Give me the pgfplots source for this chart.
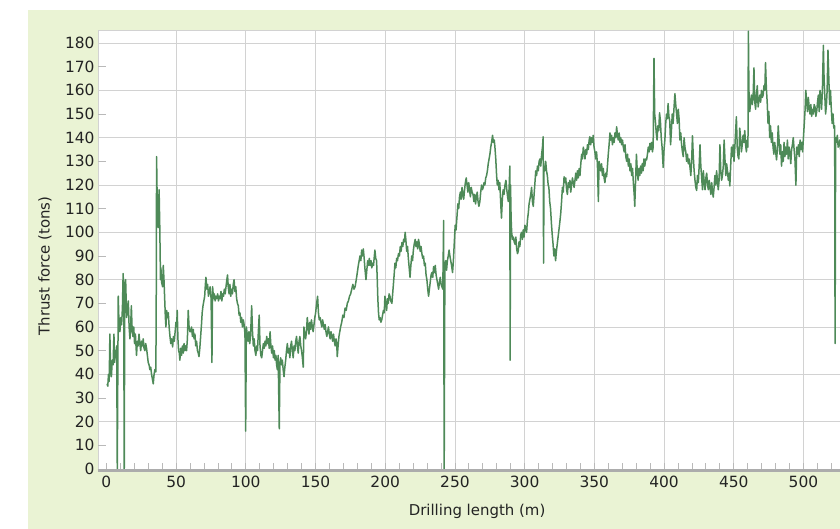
\documentclass[border=0pt]{standalone}
\usepackage{pgfplots}
\pgfplotsset{compat=1.18}
\usepackage{fontspec}
\setmainfont{DejaVu Sans}
\definecolor{bggreen}{RGB}{234,243,212}
\definecolor{linegreen}{RGB}{78,138,88}
\definecolor{gridgray}{RGB}{210,210,210}
\definecolor{txt}{RGB}{35,35,35}
\begin{document}
\begin{tikzpicture}[x=1bp,y=1bp]
\useasboundingbox (0,0) rectangle (840,529);
\clip (0,0) rectangle (840,529);
\fill[white] (0,0) rectangle (840,529);
\fill[bggreen] (28,0) rectangle (840,519);
\begin{axis}[
  at={(106.4bp,60bp)}, anchor=origin,
  scale only axis, width=750bp, height=439bp,
  xmin=-6, xmax=532, ymin=0, ymax=185.5,
  axis background/.style={fill=white},
  axis line style={gridgray, line width=0.8bp},
  xtick={50,100,...,500},
  extra x ticks={0},
  extra x tick style={grid=none},
  minor xtick={0,10,...,530},
  ytick={0,20,...,180},
  extra y ticks={10,30,...,170},
  extra y tick style={grid=none, major tick length=8bp},
  xmajorgrids, ymajorgrids,
  major grid style={gridgray, line width=0.8bp},
  major tick length=0bp,
  minor tick length=6bp,
  tick style={gray!55, line width=0.8bp},
  xtick pos=bottom, ytick pos=left,
  tick align=inside,
  /pgf/number format/assume math mode=true,
  tick label style={font=\fontsize{15.5}{18}\selectfont, text=txt},
  xticklabel style={yshift=-4bp},
  xlabel={Drilling length (m)},
  ylabel={Thrust force (tons)},
  label style={font=\fontsize{15}{18}\selectfont, text=txt},
  xlabel style={at={(axis description cs:0,0)}, anchor=center, xshift=379bp, yshift=-42bp},
  ylabel style={at={(axis description cs:0,0.4624)}, anchor=center, yshift=53bp},
]
\addplot[linegreen, line width=1.5bp, line join=round, mark=none] coordinates {
(0.5,36)(1,35)(1.5,40)(2,37)(2.5,57)(3,42)(3.6,39)(4.2,46)(4.8,44)(5.4,57)(5.9,45)(6.4,50)(6.9,47)(7.4,52)(7.8,0)(8.5,73)(9.1,60)(9.7,58)(10.3,64)(10.9,61)(11.5,68)(12,82.6)(12.4,75)(12.8,0)(13.2,78)(13.8,80)(14.5,64)(15.1,68)(15.7,71)(16.3,60)(16.9,55)(17.5,62)(17.9,69)(18.5,58)(19,56)(19.6,60)(20.2,53)(20.8,57)(21.6,48)(22.2,54)(22.8,52)(23.4,57)(24,53)(24.6,50)(25.2,54)(25.8,52)(26.4,55)(27,51)(27.6,50)(28.2,53)(28.8,51)(29.4,48)(30,45)(30.6,44)(31.2,42)(31.8,43)(32.4,40)(33,38)(33.6,36)(34.2,40)(34.8,42)(35.4,41)(35.7,60)(36,132)(36.5,110)(37.2,102)(37.8,118)(38.3,102)(38.8,80)(39.1,85)(39.6,79)(40.3,77)(40.8,86)(41.3,80)(41.8,72)(42.3,64)(42.7,60)(43.2,67)(43.8,64)(44.4,66)(45,60)(45.6,56)(46.2,53)(46.8,55)(47.5,51.6)(48.1,56)(48.7,54)(49.3,58)(49.9,62)(50.4,60)(50.8,67)(51.3,55)(51.8,50)(52.3,49)(52.7,46)(53.3,51)(53.9,48)(54.5,52)(55.1,49)(55.7,53)(56.3,50)(56.9,52)(57.5,50)(58.1,55)(58.7,67)(59.3,60)(59.9,58)
(60.5,58)(61.1,60)(61.7,56)(62.3,59)(62.9,55)(63.5,57)(64.1,52)(64.7,54)(65.3,50)(65.9,49)(66.4,47.5)(67,51)(67.6,56)(68.2,61)(68.7,66)(69.3,69)(69.9,71)(70.5,73)(71,78)(71.4,81)(72,76)(72.6,78)(73.2,73)(73.8,75)(74.4,77)(75.1,72)(75.7,45)(76.2,77)(76.8,72)(77.4,74)(78,71)(78.6,73)(79.2,72)(79.8,74)(80.4,71)(81,73)(81.6,72)(82.2,75)(82.8,71)(83.4,74)(84,73)(84.6,76)(85.2,74)(85.8,77)(86.4,80)(86.9,82)(87.4,77)(88,74)(88.6,78)(89.2,73)(89.8,76)(90.4,74)(91,78)(91.6,80)(92.2,75)(92.8,77)(93.4,72)(94,70)(94.6,69)(95.2,65)(95.8,66)(96.4,62)(97,64)(97.6,60)(98.2,63)(98.8,61)(99.4,57)(99.9,16)(100.4,60)(101,57)(101.6,54)(102.2,58)(102.8,53)(103.4,56)(104.2,69)(104.8,58)(105.4,52)(106,55)(106.6,50)(107.2,48)(107.8,52)(108.4,50)(109,58)(109.6,65)(110.2,52)(110.8,48)(111.4,47)(112,50)(112.6,53)(113.2,51)(113.8,54)(114.4,52)(115,56)(115.6,53)(116.2,55)(116.8,51)(117.4,58)(118,52)(118.6,49)(119.2,52)(119.8,47)(120.4,50)(121,46)(121.6,48)(122.1,44)(122.6,42)(123.2,48)(124,17)(124.5,45)(125,47)(125.6,44)(126.2,46)(126.8,42)(127.4,39)(128,43)(128.6,46)(129.2,50)(129.8,53)(130.4,49)(131,51)(131.6,47)(132.2,52)(132.8,54)(133.4,50)(134,47)(134.6,52)(135.2,50)(135.8,54)(136.4,56)(137,52)(137.6,49)(138.2,54)(138.8,56)(139.4,52)(140,50)(140.6,47)(141.2,43)(141.7,60)(142.3,57)(142.9,55)(143.5,58)(144.1,64)(144.7,60)(145.3,57)(145.9,62)(146.5,59)(147.1,63)(147.7,60)(148.3,58)(148.9,61)(149.5,64)(150.1,66)(150.8,70)(151.5,73)(152.1,66)(152.7,63)(153.3,64)(153.9,62)(154.5,60)(155.1,63)(155.7,61)(156.3,59)(156.9,61)(157.5,58)(158.1,56)(158.7,58)(159.3,60)(159.9,57)(160.5,55)(161.1,58)(161.7,56)(162.3,54)(162.9,57)(163.5,54)(164.1,52)(164.7,55)(165.2,53)(165.6,47.5)(166.2,52)(166.8,56)(167.4,58)(168,60)(168.8,62)(169.6,65)(170.4,64)(171.2,68)(172,67)(172.8,70)(173.6,71)(174.4,73)(175.2,74)(176,76)(176.8,78)(177.6,76)
(178.4,77)(179.5,81)(180.7,86)(181.9,90)(182.5,88)(183.1,92.5)(183.7,90)(184.3,93)(184.9,89)(185.4,85)(186.2,80)(186.8,84)(187.4,88)(188,86)(188.6,89)(189.2,86)(189.8,88)(190.4,85)(191,87)(191.6,86)(192.2,90)(192.6,92.5)(193.2,89)(193.8,88)(194.3,80)(194.7,72)(195.2,66)(195.7,63)(196.3,64)(196.9,62)(197.5,63)(198.1,65)(198.7,67)(199.3,66)(199.8,73)(200.4,70)(201,67)(201.6,72)(202.2,70)(202.8,74)(203.4,73)(204,71)(204.8,70)(205.6,76)(206.4,82)(207,87)(207.6,85)(208.2,89)(208.8,88)(209.5,91)(210.2,90)(210.8,94)(211.4,92)(212,95.7)(212.6,94)(213.2,97)(213.8,96)(214.3,100)(214.8,97)(215.4,92)(216,94)(216.6,89)(217.2,85)(217.8,81)(218.4,86)(219,90)(219.6,88)(220.2,92.5)(220.8,95)(221.5,97)(222.1,94)(222.7,96)(223.3,93)(223.9,97)(224.5,95)(225.1,92)(225.7,94)(226.3,91)(226.9,89)(227.5,90)(228.1,86)(228.7,87)(229.3,82)(229.9,80)(230.5,76)(231.1,73)(231.7,76)(232.3,79)(232.9,82)(233.5,83)(234.1,81)(234.7,85.5)(235.3,83)(235.9,86)(236.5,82)(237.1,80)(237.7,78)(238.3,76)(238.9,79)(239.5,81)(240.1,78)(240.7,77)(241.3,76)(241.9,105)(242.3,0)(242.8,86)(243.4,88)(244,84)(244.6,88)(245.2,90)(245.8,92.5)(246.4,90)(247,88)(247.6,86)(248.3,83)(248.9,88)(249.5,95)(250.2,103)(250.8,101)(251.4,106)(252.1,112)(252.7,110)(253.3,115)(253.9,117)(254.5,114)(255.1,119)(255.7,116)(256.3,114)(256.9,118)(257.5,121)(258.1,123)(258.7,120)(259.3,117)(259.9,121)
(260.5,118)(261.1,115)(261.7,119)(262.3,117)(263,116)(263.6,113)(264.2,116)(264.8,112)(265.4,115)(266,117)(266.6,113)(267.2,111)(267.9,113)(268.5,117)(269.1,120)(269.7,118)(270.3,119)(270.9,121)(271.5,120)(272.1,123)(272.7,124)(273.3,126)(273.9,129)(274.5,131)(275.1,133)(275.7,136)(276.3,138)(277,141)(277.6,138)(278.2,139)(278.7,136)(279.3,131)(279.9,124)(280.4,120)(281,122)(281.6,118)(282.2,121)(282.8,113)(283.4,106)(284,114)(284.6,118)(285.2,116)(285.9,120)(286.6,122)(287.2,118)(287.8,115)(288.3,113)(288.9,119)(289.4,128)(289.6,46)(289.9,120)(290.3,106)(290.7,100)(291.3,97)(291.9,98)(292.5,96)(293.1,95)(293.7,98)(294.3,93)(294.9,91)(295.4,92)(296,96)(296.6,94)(297.2,99)(297.8,100)(298.4,97)(299,101)(299.6,98)(300.2,103)(300.8,102)(301.4,100)(302,105)(302.6,108)(303.2,112)(303.8,114)(304.4,116)(305,119)(305.6,113)(306.2,111)(306.8,116)(307.4,121)(308,126)(308.6,124)(309.2,128)(309.8,126)(310.4,130)(311,131)(311.6,128)(312.2,133)(312.8,136)(313.3,140.4)(313.6,87)(313.9,128)(314.5,126)(315.1,130)(315.7,126)(316.3,124)(316.9,120)(317.4,119)(318,113)(318.6,110)(319.2,104)(319.8,99)(320.4,95)(321,90)(321.6,93)(322.2,88)(322.8,92)(323.4,95)(324,98)(324.6,101)(325.2,104)(325.9,108)(326.5,113)(327.1,119)(327.7,117)(328.3,123.5)(328.9,121)(329.5,123)(330.1,118)(330.7,116)(331.3,121)(331.9,119)(332.5,122)(333.1,117)(333.7,120)(334.3,123)(334.9,121)(335.5,119)(336.1,122)(336.7,125)(337.3,122)(337.9,126)(338.5,123)(339.1,127)(339.7,124)(340.3,129)(340.9,133)(341.5,131)(342.1,136)(342.7,134)(343.3,131)(343.9,135)(344.5,133)(345.1,137)(345.7,135)(346.3,139)(346.8,140.4)(347.4,137)(348,140)(348.6,138)(349.2,141)(349.8,136)(350.4,134)(351,131)(351.6,134)(352.2,129)(352.9,113)(353.4,130)(354,128)(354.6,126)(355.2,129)(355.8,124)(356.4,127)(357,123)(357.6,121)(358.2,125)(358.8,123.5)(359.4,128)(360,133)(360.6,137)(361.2,142)(361.8,139)(362.4,141)(363,137)(363.6,140)(364.2,138)(364.8,142)(365.4,140)(366,144.6)(366.6,141)(367.2,139)(367.8,142)(368.4,138)(369,140)(369.6,137)(370.2,139)(370.8,136)(371.4,134)(372,137)(372.6,132)(373.2,130)(373.8,133)(374.4,128)(375,131)(375.6,126)(376.2,129)(376.8,124)(377.4,127)(378,121)(378.6,116)(379,111)(379.6,122)(380.2,133)(380.8,126)(381.4,122)(382,127)(382.6,124)(383.2,128)(383.8,125)(384.4,129)(385,126)(385.6,131)(386.2,128)(386.8,131)(387.5,130.6)(388.1,133)(388.7,136)(389.3,134)(389.9,137.6)(390.5,135)(391.1,138)(391.7,134)(392.2,136)(392.8,173.5)(393.3,150)(393.8,147)(394.4,142)(395,139)(395.6,145)(396.2,143)(396.8,150.5)(397.4,147)(398,140)(398.6,136)(399.4,127.4)(400,135)(400.6,139)(401.2,146)(401.8,150)(402.4,148)(402.9,154.4)(403.5,149)(404.1,147)(404.7,137)(405.3,143)(405.9,150)(406.5,146)(407.1,152)(407.8,158.6)(408.4,154)(409,150)(409.6,146)(410.2,152)(410.8,148)(411.4,139)(412,142)(412.6,137)(413.2,134)(413.8,132)(414.4,140)(415,136)(415.6,134)(416.2,130)(416.8,133)(417.4,129)(418,131)(418.6,127.6)(419.2,124)(419.8,130)(420.4,140.8)(421,132)(421.6,126)(422.2,122)(422.8,119)(423.4,117.7)(424,124)(424.6,121)(425.2,128)(425.8,137)(426.4,128)(427,123)(427.6,118)(428.2,126)(428.8,121)(429.4,118)(430,123)(430.6,125)(431.2,120)(431.8,118)(432.4,122)(433,119)(433.6,116)(434.2,121)(434.8,117)(435.3,114.9)(435.9,119)(436.5,124)(437.1,120)(437.7,126)(438.3,122)(438.9,118)(439.5,122)(440.1,137)(440.7,126)(441.3,122)(441.9,124)(442.5,128)(443.1,139)(443.7,131)(444.3,124)(444.9,129)(445.5,126)(446.1,122)(446.7,125)(447.2,119.6)(447.8,128)(448.4,136)(449,132)(449.6,137)(450.2,130)(450.8,136)(451.3,142)(451.9,148.8)(452.5,136)(453.1,132)(453.7,131)(454.3,144)(454.9,140)(455.5,134)(456.1,137)(456.7,141)(457.3,138)(457.9,143)(458.5,137)(459.1,134)(459.7,139)(460.2,136)(460.5,185)(460.9,160)(461.5,151)(462.1,155)(462.7,158)(463.3,154)(463.9,157)(464.5,169.5)(465.1,155)(465.7,152)(466.3,158)(466.9,162)(467.5,153)(468.1,156)(468.7,158)(469.3,155)(469.9,160)(470.5,157)(471.1,158)(471.7,162)(472.3,160)(472.8,171.7)(473.4,161)(474,155)(474.6,146)(475.2,151)(475.8,140)(476.4,145)(477,138)(477.6,142)(478.2,136)(478.8,133)(479.4,138)(480.1,134)(480.7,130.6)(481.3,135)(481.9,145)(482.5,139)(483.1,133)(483.7,137)(484.3,128)(484.9,134)(485.5,130)(486.1,138)(486.7,132)(487.3,136)(487.9,133)(488.5,139)(489.1,131)(489.7,136)(490.3,134)(490.9,129)(491.5,135)(492.1,137)(492.7,140)(493.3,135)(493.9,131)(494.6,119.9)(495.2,136)(495.8,133)(496.4,137)(497,132)(497.6,139)(498.2,135)(498.8,138)(499.4,134)(500,140)(500.6,146)(501.2,152)(501.7,160)(502.3,155)(502.9,151)(503.5,157)(504.1,153)(504.7,150)(505.3,154)(505.9,149)(506.5,152)(507.1,150)(507.7,154)(508.3,153)(508.9,149)(509.5,151)(510.1,155)(510.7,158)(511.3,151)(511.9,160)(512.5,157)(513,152)(513.6,160)(514.3,179)(514.8,165)(515.3,158)(515.9,150)(516.5,154)(517,160)(517.6,177)(518.2,165)(518.8,154)(519.4,160)(520,152)(520.6,146)(521.2,150)(521.8,144)(522.4,145)(522.7,53)(523.1,140)(523.7,138)(524.3,141)(524.9,136)(525.5,137)(526,139)(526.6,135)(527.2,138)(528,134)(529,136)(530,133)(531,134)
};
\end{axis}
\draw[gray!65, line width=3bp] (98,58.5) -- (840,58.5);
\end{tikzpicture}
\end{document}
